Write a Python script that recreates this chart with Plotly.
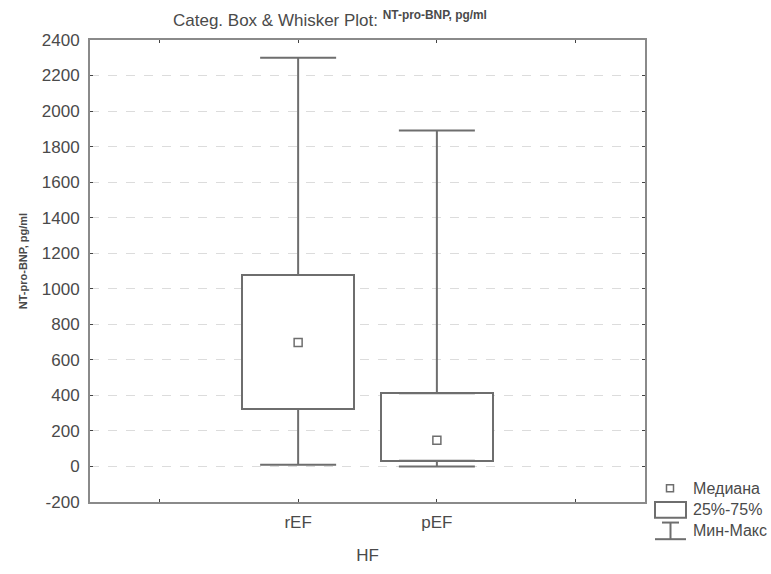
import plotly.graph_objects as go

# ---- data ----
categories = ["rEF", "pEF"]
mins = [10, 0]
q1 = [323, 32]
medians = [697, 148]
q3 = [1077, 412]
maxs = [2300, 1890]

y_ticks = list(range(-200, 2401, 200))
y_ticktext = [str(v) for v in y_ticks]
legend_labels = ["Медиана", "25%-75%", "Мин-Макс"]

# ---- styling ----
FONT = "Liberation Sans, Arial, sans-serif"
TXT = "#4a4a4a"
LINE = "#6e6e6e"
AXIS = "#8a8a8a"

W, H = 771, 574
# target plot area in page pixels: x 90..645, y 40..512
PL, PR, PT, PB = 90, 645, 40, 512
L, T, R, B = PL, PT, W - PR, H - PB
PW, PH = PR - PL, PB - PT


def px(x):  # page pixel -> paper
    return (x - PL) / PW


def py(y):
    return (PB - y) / PH


xpos = [i + 1 for i in range(len(categories))]
tickvals = [0] + xpos + [len(categories) + 1]
ticktext = [""] + categories + [""]

fig = go.Figure()

# boxes (25%-75%)
fig.add_trace(go.Bar(
    x=xpos, y=[b - a for a, b in zip(q1, q3)], base=q1, width=0.81,
    marker=dict(color="white", line=dict(color=LINE, width=2)),
    showlegend=False, hoverinfo="skip"))

# upper whiskers
fig.add_trace(go.Scatter(
    x=xpos, y=q3, mode="markers", marker=dict(size=1, opacity=0),
    error_y=dict(type="data", symmetric=False,
                 array=[m - b for m, b in zip(maxs, q3)], arrayminus=[0] * len(q3),
                 width=38, thickness=2, color=LINE),
    showlegend=False, hoverinfo="skip"))
# lower whiskers
fig.add_trace(go.Scatter(
    x=xpos, y=q1, mode="markers", marker=dict(size=1, opacity=0),
    error_y=dict(type="data", symmetric=False,
                 array=[0] * len(q1), arrayminus=[a - m for a, m in zip(q1, mins)],
                 width=38, thickness=2, color=LINE),
    showlegend=False, hoverinfo="skip"))

# medians
fig.add_trace(go.Scatter(
    x=xpos, y=medians, mode="markers",
    marker=dict(symbol="square-open", size=8, color=LINE, line=dict(width=1.5, color=LINE)),
    showlegend=False))

axis_common = dict(showline=True, linecolor=AXIS, linewidth=2, mirror="ticks",
                   ticks="inside", ticklen=3, tickcolor="#444", tickwidth=1,
                   zeroline=False,
                   tickfont=dict(family=FONT, size=17, color=TXT))

fig.update_xaxes(range=[-0.5, len(categories) + 1.5], tickmode="array",
                 tickvals=tickvals, ticktext=ticktext, showgrid=False,
                 ticklabelstandoff=4,
                 title=dict(text="HF", font=dict(family=FONT, size=17, color=TXT), standoff=18),
                 **axis_common)
fig.update_yaxes(range=[-200, 2400], tickmode="array", tickvals=y_ticks, ticktext=y_ticktext,
                 showgrid=True, gridcolor="#dcdcdc", griddash="dash", gridwidth=1,
                 ticklabelstandoff=5,
                 **axis_common)

annotations = [
    dict(text="<b>NT-pro-BNP, pg/ml</b>", textangle=-90, xref="paper", yref="paper",
         x=px(15), y=py(266), showarrow=False,
         font=dict(family=FONT, size=11, color=TXT)),
]
shapes = []

# legend (drawn manually to match the reference)
leg_y = [498, 520, 541]
for lab, yy in zip(legend_labels, leg_y):
    annotations.append(dict(text=lab, xref="paper", yref="paper", x=px(691), y=py(yy),
                            xanchor="left", yanchor="middle", showarrow=False,
                            font=dict(family=FONT, size=16, color=TXT)))
# median symbol
shapes.append(dict(type="rect", xref="paper", yref="paper", x0=px(666.5), x1=px(673.5),
                   y0=py(494.5), y1=py(501.5), line=dict(color=LINE, width=1.5)))
# box symbol
shapes.append(dict(type="rect", xref="paper", yref="paper", x0=px(655), x1=px(686),
                   y0=py(512), y1=py(528), line=dict(color=LINE, width=2)))
# min-max symbol
shapes.append(dict(type="line", xref="paper", yref="paper", x0=px(670.5), x1=px(670.5),
                   y0=py(533), y1=py(550), line=dict(color=LINE, width=2)))
shapes.append(dict(type="line", xref="paper", yref="paper", x0=px(662), x1=px(679),
                   y0=py(533), y1=py(533), line=dict(color=LINE, width=2)))
shapes.append(dict(type="line", xref="paper", yref="paper", x0=px(655), x1=px(686),
                   y0=py(550), y1=py(550), line=dict(color=LINE, width=2)))

fig.update_layout(
    width=W, height=H,
    margin=dict(l=L, r=R, t=T, b=B),
    paper_bgcolor="white", plot_bgcolor="white",
    title=dict(text="Categ. Box & Whisker Plot: <sup><b>NT-pro-BNP, pg/ml</b></sup>",
               x=173 / W, xanchor="left", xref="container",
               y=1 - 20 / H, yanchor="middle", yref="container",
               font=dict(family=FONT, size=17, color=TXT)),
    annotations=annotations, shapes=shapes,
    showlegend=False, bargap=0,
)

fig.write_html(
    "out.html",
    config={"displayModeBar": False},
    post_script="document.body.style.margin='0';document.body.style.overflow='hidden';",
)
